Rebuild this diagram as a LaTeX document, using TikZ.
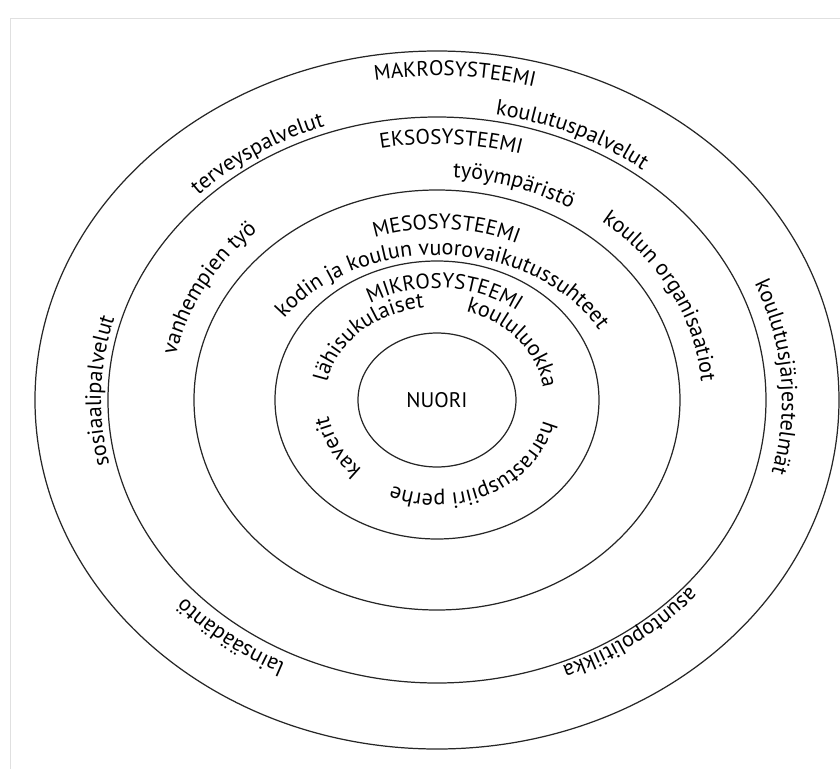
\documentclass[tikz,border=0pt]{standalone}
\usepackage{fontspec}
\setmainfont{PT Sans}
\usetikzlibrary{shapes.geometric, decorations.text}
\newcommand{\sysfont}{\fontsize{12}{14}\selectfont}
\newcommand{\itemfont}{\fontsize{12.6}{15}\selectfont}

\begin{document}
\begin{tikzpicture}
    [
        x=0.02cm, y=0.02cm,
        ring/.style={draw=black!85, line width=0.7pt},
        arclabel/.style={decorate, decoration={text along path, text align=center, text={|\itemfont|#1}}},
        arctitle/.style={decorate, decoration={text along path, text align=center, text={|\sysfont|#1}}},
    ]
        \useasboundingbox (-437,-369) rectangle (403,400);
        \draw[black!12] (-427,-369) -- (-427,382) -- (403,382);
        % rings
        \draw[ring] (0,0) ellipse [x radius=402, y radius=349];
        \draw[ring] (0,0) ellipse [x radius=329, y radius=283];
        \draw[ring] (0,0) ellipse [x radius=243, y radius=210];
        \draw[ring] (0,0) ellipse [x radius=162, y radius=139];
        \node[ring, ellipse, minimum width=3.16cm, minimum height=2.68cm, inner sep=0pt, font=\sysfont] (nuori) at (0,0) {NUORI};
        % makrosysteemi
        \path[arctitle={MAKROSYSTEEMI}] (147:374 and 324) arc[start angle=147, end angle=27, x radius=374, y radius=324];
        \path[arclabel={koulutuspalvelut}] (124:337 and 290) arc[start angle=124, end angle=4, x radius=337, y radius=290];
        \path[arclabel={terveyspalvelut}] (185:337 and 290) arc[start angle=185, end angle=65, x radius=337, y radius=290];
        \path[arclabel={sosiaalipalvelut}] (238.4:336 and 290) arc[start angle=238.4, end angle=118.4, x radius=336, y radius=290];
        \path[arclabel={koulutusjärjestelmät}] (64:345 and 297) arc[start angle=64, end angle=-56, x radius=345, y radius=297];
        \path[arclabel={lainsäädäntö}] (290:341 and 294) arc[start angle=290, end angle=170, x radius=341, y radius=294];
        \path[arclabel={asuntopolitiikka}] (368.5:333 and 287) arc[start angle=368.5, end angle=248.5, x radius=333, y radius=287];
        % eksosysteemi
        \path[arctitle={EKSOSYSTEEMI}] (147:296 and 256) arc[start angle=147, end angle=27, x radius=296, y radius=256];
        \path[arclabel={työympäristö}] (131:259 and 223) arc[start angle=131, end angle=11, x radius=259, y radius=223];
        \path[arclabel={koulun organisaatiot}] (86:265 and 228) arc[start angle=86, end angle=-34, x radius=265, y radius=228];
        \path[arclabel={vanhempien työ}] (213:266 and 229) arc[start angle=213, end angle=93, x radius=266, y radius=229];
        % mesosysteemi
        \path[arctitle={MESOSYSTEEMI}] (147:198 and 171) arc[start angle=147, end angle=27, x radius=198, y radius=171];
        \path[arclabel={kodin ja koulun vuorovaikutussuhteet}] (172:185 and 145) arc[start angle=172, end angle=2, x radius=185, y radius=145];
        % mikrosysteemi
        \path[arctitle={MIKROSYSTEEMI}] (166:132 and 112) arc[start angle=166, end angle=6, x radius=132, y radius=112];
        \path[arclabel={lähisukulaiset}] (216:112 and 93) arc[start angle=216, end angle=56, x radius=112, y radius=93];
        \path[arclabel={koululuokka}] (118:107 and 92) arc[start angle=118, end angle=-42, x radius=107, y radius=92];
        \path[arclabel={harrastuspiiri perhe}] (23:109 and 94) arc[start angle=23, end angle=-147, x radius=109, y radius=94];
        \path[arclabel={kaverit}] (266:110 and 95) arc[start angle=266, end angle=146, x radius=110, y radius=95];
    \end{tikzpicture}
\end{document}
